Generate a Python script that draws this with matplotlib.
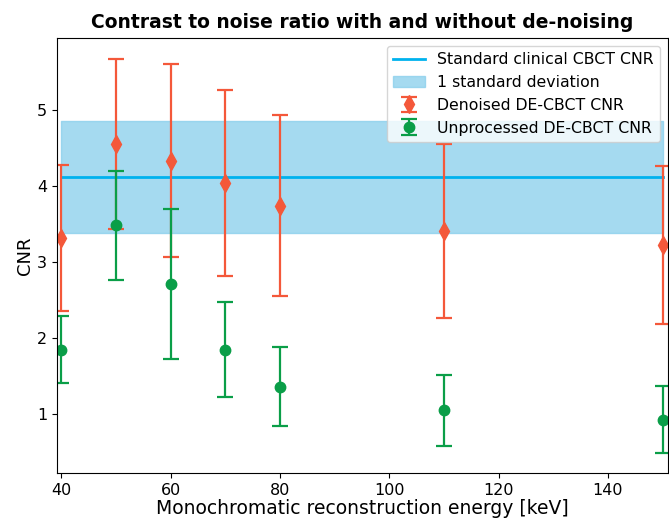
import numpy as np
import matplotlib
matplotlib.use("Agg")
from matplotlib import pyplot as plt

# energies [keV]
energy = [40, 50, 60, 70, 80, 110, 150]

# denoised DE-CBCT CNR and std
denoised = [3.31, 4.55, 4.33, 4.04, 3.74, 3.41, 3.22]
denoised_err = [0.96, 1.12, 1.27, 1.22, 1.19, 1.14, 1.04]

# unprocessed DE-CBCT CNR and std
unprocessed = [1.85, 3.48, 2.71, 1.85, 1.36, 1.05, 0.93]
unprocessed_err = [0.44, 0.72, 0.98, 0.62, 0.52, 0.46, 0.44]

# standard clinical CBCT
clinical_cnr = 4.12
clinical_std = 0.735

fig = plt.figure(figsize=(6.69, 5.22), dpi=100)
ax = fig.add_axes([0.0852, 0.094, 0.9133, 0.833])

e = np.array(energy)
ax.plot([e.min(), e.max()], [clinical_cnr, clinical_cnr], color="#00b2ee", lw=2,
        label="Standard clinical CBCT CNR")
ax.fill_between([e.min(), e.max()], clinical_cnr - clinical_std, clinical_cnr + clinical_std,
                color="skyblue", alpha=0.75, label="1 standard deviation")
ax.errorbar(energy, denoised, yerr=denoised_err, fmt="d", color="#f4583a", ms=9,
            capsize=6, elinewidth=1.6, capthick=1.6, label="Denoised DE-CBCT CNR")
ax.errorbar(energy, unprocessed, yerr=unprocessed_err, fmt="o", color="#0a9e48", ms=7.5,
            capsize=6, elinewidth=1.6, capthick=1.6, label="Unprocessed DE-CBCT CNR")

ax.set_xlim(39.2, 151)
ax.set_ylim(0.23, 5.94)
ax.set_yticks([1, 2, 3, 4, 5])
ax.set_xticks([40, 60, 80, 100, 120, 140])
ax.tick_params(labelsize=11.5)
ax.set_xlabel("Monochromatic reconstruction energy [keV]", fontsize=13.5, labelpad=1)
ax.set_ylabel("CNR", fontsize=13, labelpad=2)
ax.set_title("Contrast to noise ratio with and without de-noising", fontsize=13.5,
             fontweight="bold", pad=7)
ax.legend(loc="upper right", fontsize=11.3)

fig.savefig("out.png", dpi=100)
